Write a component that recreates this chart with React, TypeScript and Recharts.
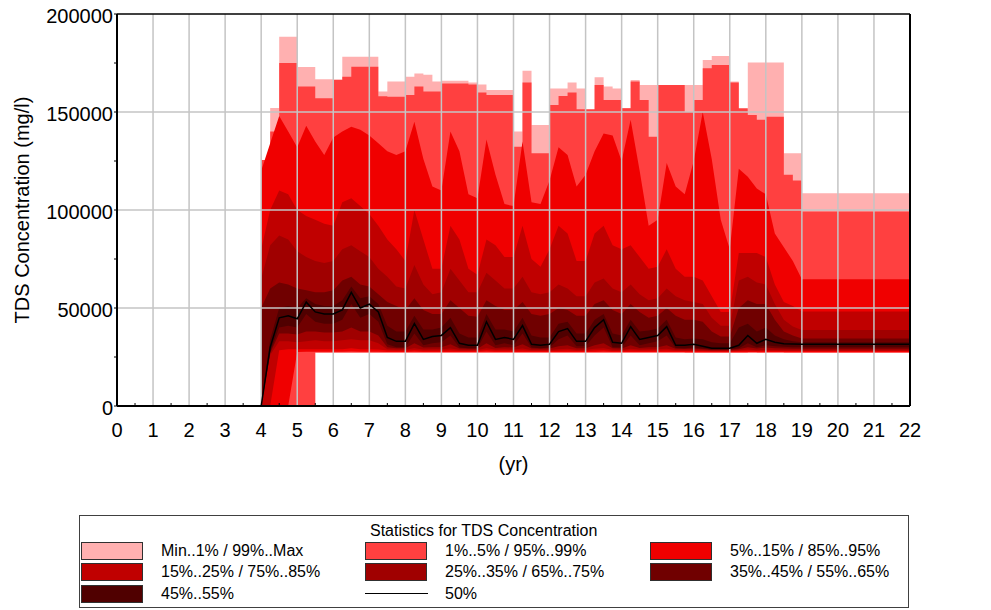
import { ComposedChart, Area, Line, XAxis, YAxis, ReferenceLine } from 'recharts';

const FONT = "'Liberation Sans', Arial, Helvetica, sans-serif";

// time axis (years), quarter-year steps while the plume is moving, then flat to the end
const times = [
    4, 4.25, 4.5, 4.75,
    5, 5.25, 5.5, 5.75,
    6, 6.25, 6.5, 6.75,
    7, 7.25, 7.5, 7.75,
    8, 8.25, 8.5, 8.75,
    9, 9.25, 9.5, 9.75,
    10, 10.25, 10.5, 10.75,
    11, 11.25, 11.5, 11.75,
    12, 12.25, 12.5, 12.75,
    13, 13.25, 13.5, 13.75,
    14, 14.25, 14.5, 14.75,
    15, 15.25, 15.5, 15.75,
    16, 16.25, 16.5, 16.75,
    17, 17.25, 17.5, 17.75,
    18, 18.25, 18.5, 18.75,
    19, 22,
];

const maxV = [
    125500, 152000, 188400, 188400,
    173000, 173000, 166700, 166700,
    166700, 178200, 178200, 178200,
    178200, 160400, 165500, 165500,
    168000, 169700, 169000, 165500,
    166000, 166000, 166000, 165000,
    164000, 161200, 161200, 161200,
    140000, 171000, 143400, 143400,
    162000, 162000, 165000, 162000,
    150000, 167700, 163000, 162000,
    152000, 166300, 163800, 163800,
    163800, 163800, 163800, 163800,
    163800, 176500, 178600, 178600,
    165500, 150000, 175300, 175300,
    175300, 175300, 128900, 128900,
    108500, 108500,
];

const p99 = [
    125500, 140000, 175000, 175000,
    163000, 163000, 157000, 157000,
    166300, 168000, 173100, 173100,
    173100, 158000, 157800, 157800,
    158700, 163000, 160400, 160400,
    164600, 164600, 164600, 164000,
    160000, 158700, 158700, 158700,
    132300, 165000, 128900, 128900,
    153600, 158200, 160000, 151400,
    151400, 163800, 156100, 156100,
    151900, 165500, 156100, 137400,
    163800, 163800, 163800, 150000,
    156100, 172300, 174000, 174000,
    165000, 151900, 148500, 146000,
    147600, 147600, 118000, 115000,
    99200, 99200,
];

const p95 = [
    120000, 134000, 148000, 140000,
    132000, 143000, 135000, 128000,
    137000, 140000, 142500, 141000,
    138000, 134000, 130000, 128000,
    130000, 145000, 126000, 112000,
    110000, 140000, 130000, 108000,
    106000, 136000, 118000, 103000,
    102000, 135000, 104000, 103000,
    115000, 132000, 128000, 112000,
    118000, 130000, 139000, 138000,
    125000, 146000, 120000, 92000,
    95000, 124000, 112000, 108000,
    125000, 150000, 126000, 95000,
    80000, 121000, 117000, 111000,
    108000, 88000, 81000, 74000,
    64700, 64700,
];

const p85 = [
    80000, 100000, 110000, 108000,
    100000, 97000, 95000, 93000,
    92000, 104000, 106000, 102000,
    98000, 92000, 85000, 80000,
    74000, 100000, 85000, 70000,
    70000, 92000, 85000, 70000,
    67000, 85000, 82000, 76000,
    76000, 92000, 75000, 71000,
    80000, 92000, 88000, 74000,
    74000, 88000, 92000, 82000,
    80000, 82000, 76000, 70000,
    71000, 80000, 70000, 66000,
    66000, 64000, 56000, 48000,
    48000, 78000, 78000, 78000,
    76000, 62000, 53000, 51000,
    48200, 48200,
];

const p75 = [
    65000, 82000, 87000, 85000,
    79000, 76000, 74000, 73000,
    74000, 80000, 82000, 79000,
    76000, 70000, 66000, 61000,
    60000, 72000, 62000, 57000,
    58000, 70000, 64000, 58000,
    58000, 68000, 64000, 60000,
    60000, 66000, 58000, 57000,
    58000, 62000, 60000, 56000,
    56000, 63000, 65000, 60000,
    58000, 62000, 57000, 54000,
    55000, 60000, 56000, 54000,
    53000, 52000, 45000, 41000,
    41000, 64000, 66000, 63000,
    62000, 52000, 44000, 40500,
    38800, 38800,
];

const p65 = [
    50000, 60000, 63000, 62000,
    60000, 59000, 58000, 58000,
    59000, 64000, 66000, 62000,
    61000, 57000, 53000, 51000,
    49000, 55000, 49000, 47000,
    47000, 54000, 50000, 46000,
    45500, 54000, 51000, 49000,
    49000, 53000, 47000, 46000,
    47000, 50000, 49000, 46000,
    46000, 52000, 54000, 49000,
    47000, 52000, 48000, 45000,
    46000, 50000, 46000, 44000,
    44000, 43000, 38000, 35500,
    35500, 50000, 54000, 52000,
    52000, 44000, 38000, 36000,
    34500, 34500,
];

const p55 = [
    0, 34000, 50000, 51000,
    50000, 55000, 52000, 51000,
    51000, 54000, 61000, 55000,
    56000, 52000, 41000, 38000,
    38000, 46000, 39000, 39000,
    40000, 45000, 37000, 35000,
    35000, 47000, 39000, 39000,
    38000, 45000, 36000, 35000,
    35000, 42000, 43000, 37000,
    37000, 44000, 47000, 37000,
    36000, 44000, 38000, 38500,
    39500, 44000, 35000, 34000,
    34500, 34000, 32500, 32000,
    32000, 40000, 42000, 38000,
    40000, 36000, 34000, 33000,
    32500, 32500,
];

const p50 = [
    0, 30000, 45000, 46000,
    44500, 53000, 48000, 47000,
    47000, 49000, 58000, 50000,
    52000, 48000, 35000, 33000,
    33000, 42000, 34000, 35500,
    36000, 40000, 32000, 31000,
    31000, 43000, 34000, 35000,
    34000, 41000, 31500, 31000,
    31500, 38000, 39500, 33000,
    33000, 40000, 44000, 32500,
    32000, 40500, 34000, 35000,
    36000, 40500, 31000, 31000,
    31500, 30500, 29500, 29500,
    29500, 31000, 36000, 32000,
    34000, 32500, 31800, 31600,
    31500, 31500,
];

const p45 = [
    0, 27500, 40000, 41000,
    40000, 47000, 43000, 42000,
    42000, 44000, 52000, 45000,
    47000, 43000, 31500, 30000,
    30000, 37000, 31000, 32000,
    32500, 36000, 29800, 29500,
    29500, 38000, 31000, 32000,
    31000, 37000, 29800, 29500,
    29800, 34000, 36000, 30500,
    30500, 36000, 40000, 30000,
    29800, 36000, 31000, 32000,
    33000, 36000, 29600, 29500,
    29800, 29300, 28800, 28800,
    28800, 29500, 32000, 30000,
    31000, 30500, 30200, 30000,
    30000, 30000,
];

const p35 = [
    0, 27000, 37000, 37000,
    36500, 38000, 38000, 37500,
    37500, 38000, 40000, 38000,
    38000, 36000, 30000, 29500,
    29500, 32000, 29800, 30000,
    30000, 31500, 29300, 29200,
    29200, 32000, 29600, 30000,
    29800, 31500, 29300, 29200,
    29300, 30500, 31000, 29500,
    29500, 31000, 32000, 29500,
    29300, 31000, 29600, 30000,
    30000, 31000, 29200, 29100,
    29200, 29000, 28600, 28600,
    28600, 29000, 30000, 29300,
    29800, 29500, 29300, 29200,
    29200, 29200,
];

const p25 = [
    0, 26000, 33000, 33000,
    32500, 33000, 33500, 33000,
    33000, 33500, 34000, 33500,
    33500, 32000, 29000, 28800,
    28800, 29500, 28800, 28900,
    28900, 29300, 28700, 28600,
    28600, 29500, 28800, 28900,
    28800, 29300, 28600, 28600,
    28600, 29000, 29200, 28700,
    28700, 29200, 29500, 28700,
    28600, 29200, 28800, 28900,
    28900, 29200, 28600, 28500,
    28500, 28400, 28200, 28200,
    28200, 28400, 28800, 28500,
    28700, 28600, 28500, 28500,
    28500, 28500,
];

const p15 = [
    0, 0, 28500, 29000,
    29000, 29000, 29000, 29000,
    29000, 29000, 29500, 29000,
    29000, 28800, 28300, 28200,
    28200, 28400, 28200, 28200,
    28200, 28300, 28100, 28100,
    28100, 28400, 28200, 28200,
    28200, 28300, 28100, 28100,
    28100, 28200, 28300, 28100,
    28100, 28300, 28400, 28100,
    28100, 28300, 28200, 28200,
    28200, 28300, 28100, 28000,
    28000, 28000, 27900, 27900,
    27900, 28000, 28200, 28000,
    28100, 28100, 28000, 28000,
    28000, 28000,
];

const p5 = [
    0, 0, 0, 0,
    27600, 27700, 27700, 27700,
    27700, 27700, 27800, 27700,
    27700, 27700, 27600, 27600,
    27600, 27700, 27600, 27600,
    27600, 27600, 27600, 27600,
    27600, 27700, 27600, 27600,
    27600, 27600, 27600, 27600,
    27600, 27600, 27600, 27600,
    27600, 27600, 27700, 27600,
    27600, 27600, 27600, 27600,
    27600, 27600, 27600, 27500,
    27500, 27500, 27500, 27500,
    27500, 27500, 27600, 27500,
    27600, 27600, 27500, 27500,
    27500, 27500,
];

const p1 = [
    0, 0, 0, 0,
    0, 0, 27300, 27300,
    27300, 27300, 27300, 27300,
    27300, 27300, 27300, 27300,
    27300, 27300, 27300, 27300,
    27300, 27300, 27300, 27300,
    27300, 27300, 27300, 27300,
    27300, 27300, 27300, 27300,
    27300, 27300, 27300, 27300,
    27300, 27300, 27300, 27300,
    27300, 27300, 27300, 27300,
    27300, 27300, 27300, 27200,
    27200, 27200, 27200, 27200,
    27200, 27200, 27300, 27200,
    27300, 27300, 27200, 27200,
    27200, 27200,
];

const minV = [
    0, 0, 0, 0,
    0, 0, 27000, 27000,
    27000, 27000, 27000, 27000,
    27000, 27000, 27000, 27000,
    27000, 27000, 27000, 27000,
    27000, 27000, 27000, 27000,
    27000, 27000, 27000, 27000,
    27000, 27000, 27000, 27000,
    27000, 27000, 27000, 27000,
    27000, 27000, 27000, 27000,
    27000, 27000, 27000, 27000,
    27000, 27000, 27000, 27000,
    27000, 27000, 27000, 27000,
    27000, 27000, 27000, 27000,
    27000, 27000, 27000, 27000,
    27000, 27000,
];

const xTicks = [0, 1, 2, 3, 4, 5, 6, 7, 8, 9, 10, 11, 12, 13, 14, 15, 16, 17, 18, 19, 20, 21, 22];
const yTicks = [0, 25000, 50000, 75000, 100000, 125000, 150000, 175000, 200000];
const yGrid = [50000, 100000, 150000];

const bandLabels = [
    'Min..1% / 99%..Max',
    '1%..5% / 95%..99%',
    '5%..15% / 85%..95%',
    '15%..25% / 75%..85%',
    '25%..35% / 65%..75%',
    '35%..45% / 55%..65%',
    '45%..55%',
];
const bandColors = ['#FFB0B0', '#FF4040', '#F00000', '#C00000', '#A00000', '#700000', '#500000'];
const bandTypes = ['stepAfter', 'stepAfter', 'linear', 'linear', 'linear', 'linear', 'linear'] as const;

const data = times.map((t, i) => ({
    t,
    b0: [minV[i], maxV[i]],
    b1: [p1[i], p99[i]],
    b2: [p5[i], p95[i]],
    b3: [p15[i], p85[i]],
    b4: [p25[i], p75[i]],
    b5: [p35[i], p65[i]],
    b6: [p45[i], p55[i]],
    p50: p50[i],
}));

// x ticks every half year: integers get a label, halves a small inward mark
const xAllTicks = xTicks.flatMap(v => (v < 22 ? [v, v + 0.5] : [v]));

const XTick = ({ x, y, payload }: any) => {
    const v = payload.value;
    if (Number.isInteger(v)) {
        return (
            <text x={x} y={y + 31} textAnchor="middle" fontSize={20} fontFamily={FONT} fill="#000">
                {v}
            </text>
        );
    }
    return <line x1={x} x2={x} y1={y} y2={y - 3} stroke="#000" strokeWidth={1} />;
};

const LeftTick = ({ x, y, payload }: any) => {
    const v = payload.value;
    return (
        <g>
            <line x1={x - 3} x2={x} y1={y} y2={y} stroke="#000" strokeWidth={1} />
            {v % 50000 === 0 && (
                <text x={x - 4} y={y + 9} textAnchor="end" fontSize={20} fontFamily={FONT} fill="#000">
                    {v}
                </text>
            )}
        </g>
    );
};

const RightTick = ({ x, y, payload }: any) => {
    const v = payload.value;
    return (
        <g>
            <line x1={x - 3} x2={x} y1={y} y2={y} stroke="#000" strokeWidth={1} />
            {v % 50000 === 0 && (
                <text x={x + 3} y={y + 9} textAnchor="start" fontSize={20} fontFamily={FONT} fill="#000">
                    {v}
                </text>
            )}
        </g>
    );
};

const YTitle = ({ viewBox }: any) => {
    const cx = 22;
    const cy = viewBox.y + viewBox.height / 2;
    return (
        <text
            x={cx}
            y={cy}
            transform={`rotate(-90 ${cx} ${cy})`}
            textAnchor="middle"
            dominantBaseline="central"
            fontSize={20}
            fontFamily={FONT}
            fill="#000"
        >
            TDS Concentration (mg/l)
        </text>
    );
};

const Legend = () => {
    const cols = [81, 365, 650];
    const rows = [542, 563, 585];
    const swatch = (left: number, top: number, color: string) => (
        <div
            style={{
                position: 'absolute',
                left,
                top,
                width: 60,
                height: 16,
                background: color,
                border: '1px solid #303030',
            }}
        />
    );
    const label = (left: number, top: number, text: string) => (
        <div
            style={{
                position: 'absolute',
                left,
                top,
                fontSize: 16,
                lineHeight: '18px',
                fontFamily: FONT,
                color: '#000',
                whiteSpace: 'nowrap',
            }}
        >
            {text}
        </div>
    );
    return (
        <>
            <div
                style={{
                    position: 'absolute',
                    left: 79,
                    top: 515,
                    width: 828,
                    height: 91,
                    border: '1px solid #404040',
                }}
            />
            <div
                style={{
                    position: 'absolute',
                    left: 370,
                    top: 522,
                    fontSize: 16,
                    lineHeight: '18px',
                    fontFamily: FONT,
                    color: '#000',
                    whiteSpace: 'nowrap',
                }}
            >
                Statistics for TDS Concentration
            </div>
            {bandLabels.map((txt, i) => {
                const c = cols[i % 3];
                const r = rows[Math.floor(i / 3)];
                return (
                    <div key={txt}>
                        {swatch(c, r, bandColors[i])}
                        {label(c + 80, r, txt)}
                    </div>
                );
            })}
            <div
                style={{
                    position: 'absolute',
                    left: cols[1],
                    top: rows[2] + 8,
                    width: 63,
                    height: 1,
                    background: '#000',
                }}
            />
            {label(cols[1] + 80, rows[2], '50%')}
        </>
    );
};

export default function App() {
    return (
        <div style={{ position: 'absolute', left: 0, top: 0, width: 991, height: 610, background: '#fff' }}>
            <ComposedChart width={991} height={480} data={data} margin={{ top: 14, right: 0, bottom: 10, left: 0 }}>
                <XAxis
                    dataKey="t"
                    type="number"
                    domain={[0, 22]}
                    ticks={xAllTicks}
                    interval={0}
                    tickSize={0}
                    tickMargin={0}
                    tickLine={false}
                    tick={<XTick />}
                    height={64}
                    axisLine={{ stroke: '#000', strokeWidth: 2 }}
                    label={{ value: '(yr)', position: 'insideBottom', offset: -1, fontSize: 20, fill: '#000', fontFamily: FONT }}
                />
                <YAxis
                    yAxisId="left"
                    type="number"
                    domain={[0, 200000]}
                    ticks={yTicks}
                    interval={0}
                    width={117}
                    tickSize={0}
                    tickMargin={0}
                    tickLine={false}
                    tick={<LeftTick />}
                    axisLine={{ stroke: '#000', strokeWidth: 2 }}
                    label={(props: any) => <YTitle {...props} />}
                />
                <YAxis
                    yAxisId="right"
                    orientation="right"
                    type="number"
                    domain={[0, 200000]}
                    ticks={yTicks}
                    interval={0}
                    width={81}
                    tickSize={0}
                    tickMargin={0}
                    tickLine={false}
                    tick={<RightTick />}
                    axisLine={{ stroke: '#000', strokeWidth: 2 }}
                />
                {bandColors.map((color, i) => (
                    <Area
                        key={'b' + i}
                        yAxisId="left"
                        dataKey={'b' + i}
                        type={bandTypes[i]}
                        fill={color}
                        fillOpacity={1}
                        stroke="none"
                        isAnimationActive={false}
                        activeDot={false}
                    />
                ))}
                {xTicks
                    .filter(v => v > 0 && v < 22)
                    .map(v => (
                        <ReferenceLine key={'gx' + v} yAxisId="left" x={v} stroke="#C4C4C4" strokeWidth={1.5} />
                    ))}
                {yGrid.map(v => (
                    <ReferenceLine key={'gy' + v} yAxisId="left" y={v} stroke="#C4C4C4" strokeWidth={1.5} />
                ))}
                <ReferenceLine yAxisId="left" y={200000} stroke="#000" strokeWidth={1.5} />
                <Line
                    yAxisId="left"
                    dataKey="p50"
                    type="linear"
                    stroke="#000"
                    strokeWidth={1.5}
                    dot={false}
                    activeDot={false}
                    isAnimationActive={false}
                />
            </ComposedChart>
            <Legend />
        </div>
    );
}
